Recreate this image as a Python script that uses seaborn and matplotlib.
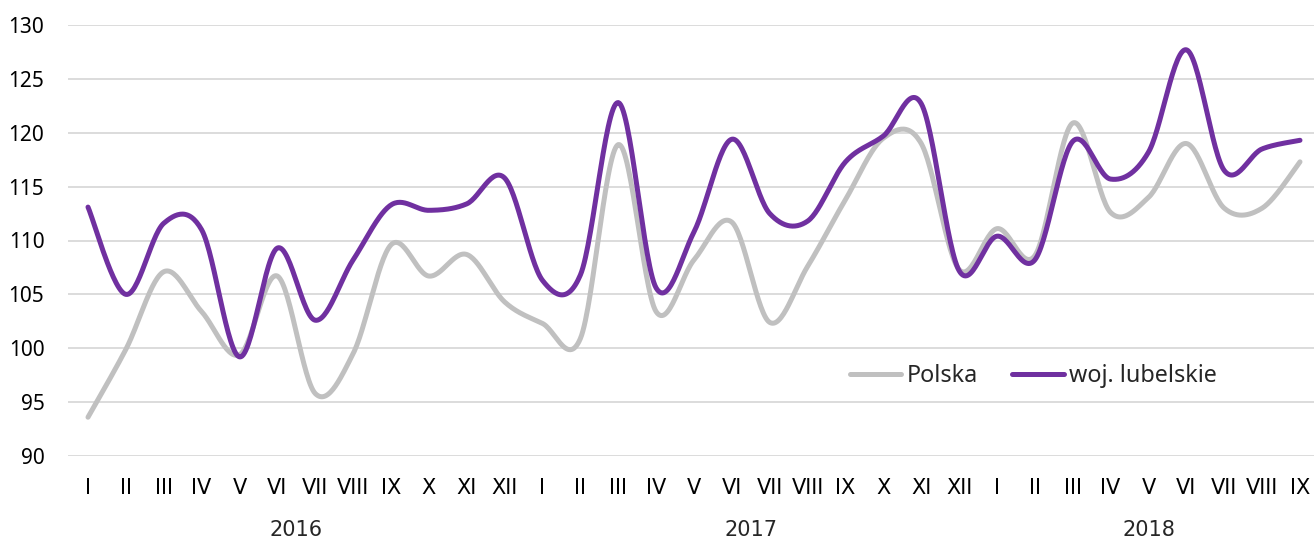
import numpy as np
import pandas as pd
import seaborn as sns
from matplotlib import pyplot as plt

months = ["I", "II", "III", "IV", "V", "VI", "VII", "VIII", "IX", "X", "XI", "XII",
          "I", "II", "III", "IV", "V", "VI", "VII", "VIII", "IX", "X", "XI", "XII",
          "I", "II", "III", "IV", "V", "VI", "VII", "VIII", "IX"]
years = ["2016", "2017", "2018"]
year_len = [12, 12, 9]

polska = [93.6, 99.9, 107.1, 103.4, 99.4, 106.7, 95.8, 99.5, 109.6, 106.7, 108.7, 104.3,
          102.3, 100.9, 118.9, 103.4, 108.2, 111.7, 102.4, 107.6, 113.8, 119.5, 119.0, 107.3,
          111.1, 108.6, 120.9, 112.6, 114.0, 119.0, 113.0, 113.0, 117.3]
lubelskie = [113.1, 105.0, 111.6, 111.0, 99.2, 109.3, 102.6, 108.2, 113.3, 112.8, 113.4, 115.8,
             106.3, 106.8, 122.8, 105.6, 110.8, 119.4, 112.5, 111.8, 117.3, 119.7, 122.7, 107.2,
             110.4, 108.2, 119.2, 115.7, 118.2, 127.7, 116.5, 118.5, 119.3]

PURPLE = "#7030A0"
GRAY = "#C0C0C0"


def smooth(vals, n=30):
    # Excel-like smoothed line: cubic bezier through the points (Catmull-Rom)
    y = np.asarray(vals, dtype=float)
    x = np.arange(len(y), dtype=float)
    px = np.concatenate([[x[0]], x, [x[-1]]])
    py = np.concatenate([[y[0]], y, [y[-1]]])
    xs, ys = [], []
    t = np.linspace(0, 1, n, endpoint=False)[:, None]
    for i in range(len(y) - 1):
        p0 = np.array([x[i], y[i]])
        p3 = np.array([x[i + 1], y[i + 1]])
        p1 = p0 + (np.array([px[i + 2], py[i + 2]]) - np.array([px[i], py[i]])) / 6
        p2 = p3 - (np.array([px[i + 3], py[i + 3]]) - np.array([px[i + 1], py[i + 1]])) / 6
        b = (1 - t) ** 3 * p0 + 3 * (1 - t) ** 2 * t * p1 + 3 * (1 - t) * t ** 2 * p2 + t ** 3 * p3
        xs.extend(b[:, 0]); ys.extend(b[:, 1])
    xs.append(x[-1]); ys.append(y[-1])
    return np.array(xs), np.array(ys)


sns.set_theme(style="white")
plt.rcParams["font.family"] = ["Noto Sans", "DejaVu Sans"]
narrow = ["Liberation Sans Narrow", "DejaVu Sans"]

fig = plt.figure(figsize=(13.14, 5.43), dpi=100)
ax = fig.add_axes([68 / 1314, 1 - 456 / 543, 1 - 68 / 1314, (456 - 25) / 543])

for name, vals, col in [("Polska", polska, GRAY), ("woj. lubelskie", lubelskie, PURPLE)]:
    sx, sy = smooth(vals)
    df = pd.DataFrame({"x": sx, "y": sy})
    sns.lineplot(data=df, x="x", y="y", sort=False, estimator=None, color=col,
                 linewidth=3.6, label=name, ax=ax, solid_capstyle="round")

ax.set_xlim(-0.528, 32.37)
ax.set_ylim(90, 130)
ax.set_yticks(range(90, 131, 5))
ax.set_xticks(range(len(months)))
ax.set_xticklabels(months, fontsize=15, family=narrow)
ax.tick_params(axis="y", labelsize=15, pad=17, length=0, colors="#000000")
ax.tick_params(axis="x", pad=16, length=0, colors="#000000")
ax.grid(axis="y", color="#D9D9D9", linewidth=1.3)
ax.set_axisbelow(True)
for s in ax.spines.values():
    s.set_visible(False)
ax.set_xlabel("")
ax.set_ylabel("")

start = 0
for yr, n in zip(years, year_len):
    ax.text(start + (n - 1) / 2, -0.172, yr, transform=ax.get_xaxis_transform(),
            ha="center", va="center", fontsize=15, family=narrow)
    start += n

ax.legend(loc="center left", bbox_to_anchor=((850 - 68) / 1246, (456 - 376) / 431), ncol=2,
          frameon=False, fontsize=16.8, handlelength=2.2, handletextpad=0.25,
          columnspacing=1.45, borderaxespad=0, borderpad=0)

fig.savefig("out.png", dpi=100)
